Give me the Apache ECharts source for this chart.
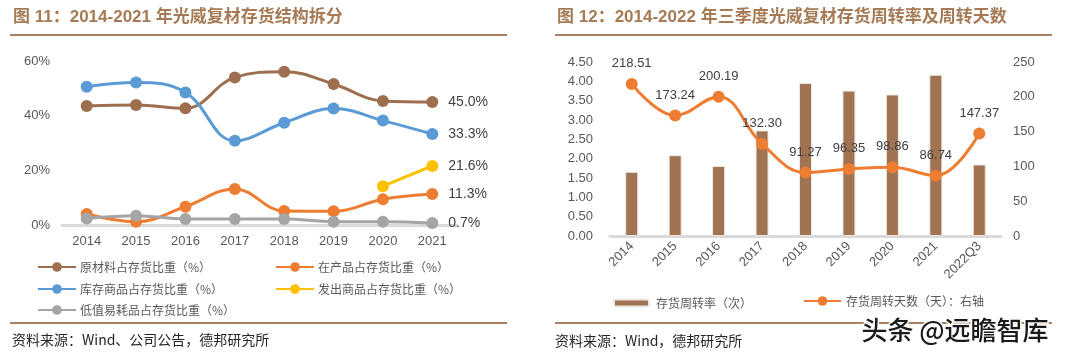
<!DOCTYPE html>
<html><head><meta charset="utf-8">
<script src="https://cdn.jsdelivr.net/npm/echarts@6/dist/echarts.min.js"></script>
<style>html,body{margin:0;padding:0;background:#fff;}#c{width:1080px;height:357px;}</style>
</head><body><div id="c"></div>
<script>
// ---- Data: chart 11 ----
const years11 = ['2014','2015','2016','2017','2018','2019','2020','2021'];
const rawMat = [43.5, 43.9, 42.7, 54.0, 56.1, 51.6, 45.4, 45.0];
const wip = [4.0, 1.2, 6.7, 13.2, 5.1, 5.0, 9.4, 11.3];
const finished = [50.6, 52.1, 48.5, 30.8, 37.4, 42.6, 38.2, 33.3];
const shipped = [null, null, null, null, null, null, 14.2, 21.6];
const consumables = [2.4, 3.4, 2.2, 2.2, 2.2, 1.2, 1.2, 0.7];
const names11 = ['原材料占存货比重（%）','在产品占存货比重（%）','库存商品占存货比重（%）','发出商品占存货比重（%）','低值易耗品占存货比重（%）'];
const yTicks11 = [0, 20, 40, 60];
// ---- Data: chart 12 ----
const periods12 = ['2014','2015','2016','2017','2018','2019','2020','2021','2022Q3'];
const turnoverRate = [1.66, 2.09, 1.81, 2.73, 3.96, 3.76, 3.66, 4.17, 1.85];
const turnoverDays = [218.51, 173.24, 200.19, 132.30, 91.27, 96.35, 98.86, 86.74, 147.37];
const names12 = ['存货周转率（次）','存货周转天数（天）：右轴'];

const FONT = '"Liberation Sans", Arial, "Noto Sans CJK SC", sans-serif';
const CJK = '"Noto Sans CJK SC", "Liberation Sans", sans-serif';
const colors11 = ['#9e6f4f', '#ed7d31', '#5b9bd5', '#ffc000', '#a5a5a5'];
const data11 = [rawMat, wip, finished, shipped, consumables];

const chart = echarts.init(document.getElementById('c'), null, {renderer: 'canvas'});

const series11 = data11.map((d, i) => ({
  name: names11[i], type: 'line', xAxisIndex: 0, yAxisIndex: 0,
  data: d, smooth: 0.4, symbol: 'circle', symbolSize: 12,
  lineStyle: {width: 3, color: colors11[i]}, itemStyle: {color: colors11[i]},
  z: 2 + i,
  label: {
    show: true, position: 'right', distance: 10,
    fontFamily: FONT, fontSize: 14, color: '#404040',
    formatter: p => p.dataIndex === d.length - 1 ? p.value.toFixed(1) + '%' : ''
  }
}));

const legendPos11 = [[37, 261], [275, 261], [37, 283], [275, 283], [37, 304]];
const legends = names11.map((n, i) => ({
  data: [n], left: legendPos11[i][0], top: legendPos11[i][1],
  itemWidth: 38, itemHeight: 12, itemGap: 0, padding: 0,
  textStyle: {fontFamily: CJK, fontSize: 12, color: '#595959', padding: [0, 0, 0, -1]}
}));
legends.push({
  data: [names12[0]], left: 613, top: 297, itemWidth: 35, itemHeight: 7, padding: 0,
  textStyle: {fontFamily: CJK, fontSize: 12, color: '#595959', padding: [0, 0, 0, 2]}
});
legends.push({
  data: [names12[1]], left: 803, top: 295, itemWidth: 37, itemHeight: 12, padding: 0,
  textStyle: {fontFamily: CJK, fontSize: 12, color: '#595959', padding: [0, 0, 0, 0]}
});

const axisLabelStyle = {fontFamily: FONT, fontSize: 13, color: '#595959'};

chart.setOption({
  animation: false,
  backgroundColor: '#fff',
  grid: [
    {left: 62, top: 61, width: 395, height: 164},
    {left: 610, top: 62, width: 391, height: 174}
  ],
  xAxis: [
    {type: 'category', gridIndex: 0, data: years11, boundaryGap: true,
     axisLine: {show: true, lineStyle: {color: '#d9d9d9', width: 3}},
     axisTick: {show: false}, axisLabel: Object.assign({margin: 10}, axisLabelStyle)},
    {type: 'category', gridIndex: 1, data: periods12, boundaryGap: true,
     axisLine: {show: true, lineStyle: {color: '#d9d9d9', width: 3}},
     axisTick: {show: false},
     axisLabel: Object.assign({margin: 8, rotate: 45, interval: 0}, axisLabelStyle)}
  ],
  yAxis: [
    {type: 'value', gridIndex: 0, min: yTicks11[0], max: yTicks11[yTicks11.length - 1], interval: 20,
     axisLine: {show: false}, axisTick: {show: false}, splitLine: {show: false},
     axisLabel: Object.assign({margin: 12, formatter: '{value}%'}, axisLabelStyle)},
    {type: 'value', gridIndex: 1, min: 0, max: 4.5, interval: 0.5,
     axisLine: {show: false}, axisTick: {show: false}, splitLine: {show: false},
     axisLabel: Object.assign({margin: 17, formatter: v => v.toFixed(2)}, axisLabelStyle)},
    {type: 'value', gridIndex: 1, position: 'right', min: 0, max: 250, interval: 50,
     axisLine: {show: false}, axisTick: {show: false}, splitLine: {show: false},
     axisLabel: Object.assign({margin: 12}, axisLabelStyle)}
  ],
  legend: legends,
  series: series11.concat([
    {name: names12[0], type: 'bar', xAxisIndex: 1, yAxisIndex: 1, data: turnoverRate,
     barWidth: 13, itemStyle: {color: '#a07352', borderColor: '#efe6df', borderWidth: 1}},
    {name: names12[1], type: 'line', xAxisIndex: 1, yAxisIndex: 2, data: turnoverDays,
     smooth: 0.4, symbol: 'circle', symbolSize: 12, z: 5,
     lineStyle: {width: 3, color: '#ed7d31'}, itemStyle: {color: '#ed7d31'},
     label: {show: true, position: 'top', distance: 8, fontFamily: FONT, fontSize: 13,
             color: '#404040', formatter: p => p.value.toFixed(2)}}
  ]),
  graphic: [
    {type: 'text', left: 13, top: 9, style: {text: '图 11：2014-2021 年光威复材存货结构拆分',
      font: 'bold 17px ' + FONT, fill: '#a57a55'}},
    {type: 'text', left: 557, top: 9, style: {text: '图 12：2014-2022 年三季度光威复材存货周转率及周转天数',
      font: 'bold 17px ' + FONT, fill: '#a57a55'}},
    {type: 'line', shape: {x1: 10, y1: 35, x2: 507, y2: 35}, style: {stroke: '#a8825f', lineWidth: 2}},
    {type: 'line', shape: {x1: 555, y1: 35, x2: 1052, y2: 35}, style: {stroke: '#a8825f', lineWidth: 2}},
    {type: 'line', shape: {x1: 10, y1: 323, x2: 507, y2: 323}, style: {stroke: '#a8825f', lineWidth: 2}},
    {type: 'line', shape: {x1: 555, y1: 323, x2: 1052, y2: 323}, style: {stroke: '#a8825f', lineWidth: 2}},
    {type: 'text', left: 12, top: 333, style: {text: '资料来源：Wind、公司公告，德邦研究所',
      font: '14px ' + CJK, fill: '#262626'}},
    {type: 'text', left: 555, top: 334, style: {text: '资料来源：Wind，德邦研究所',
      font: '14px ' + CJK, fill: '#262626'}},
    {type: 'text', left: 860, top: 316, z: 100, style: {text: '头条 @远瞻智库',
      font: '500 26px ' + CJK, fill: '#1a1a1a', stroke: '#ffffff', lineWidth: 3}}
  ]
});
</script></body></html>
